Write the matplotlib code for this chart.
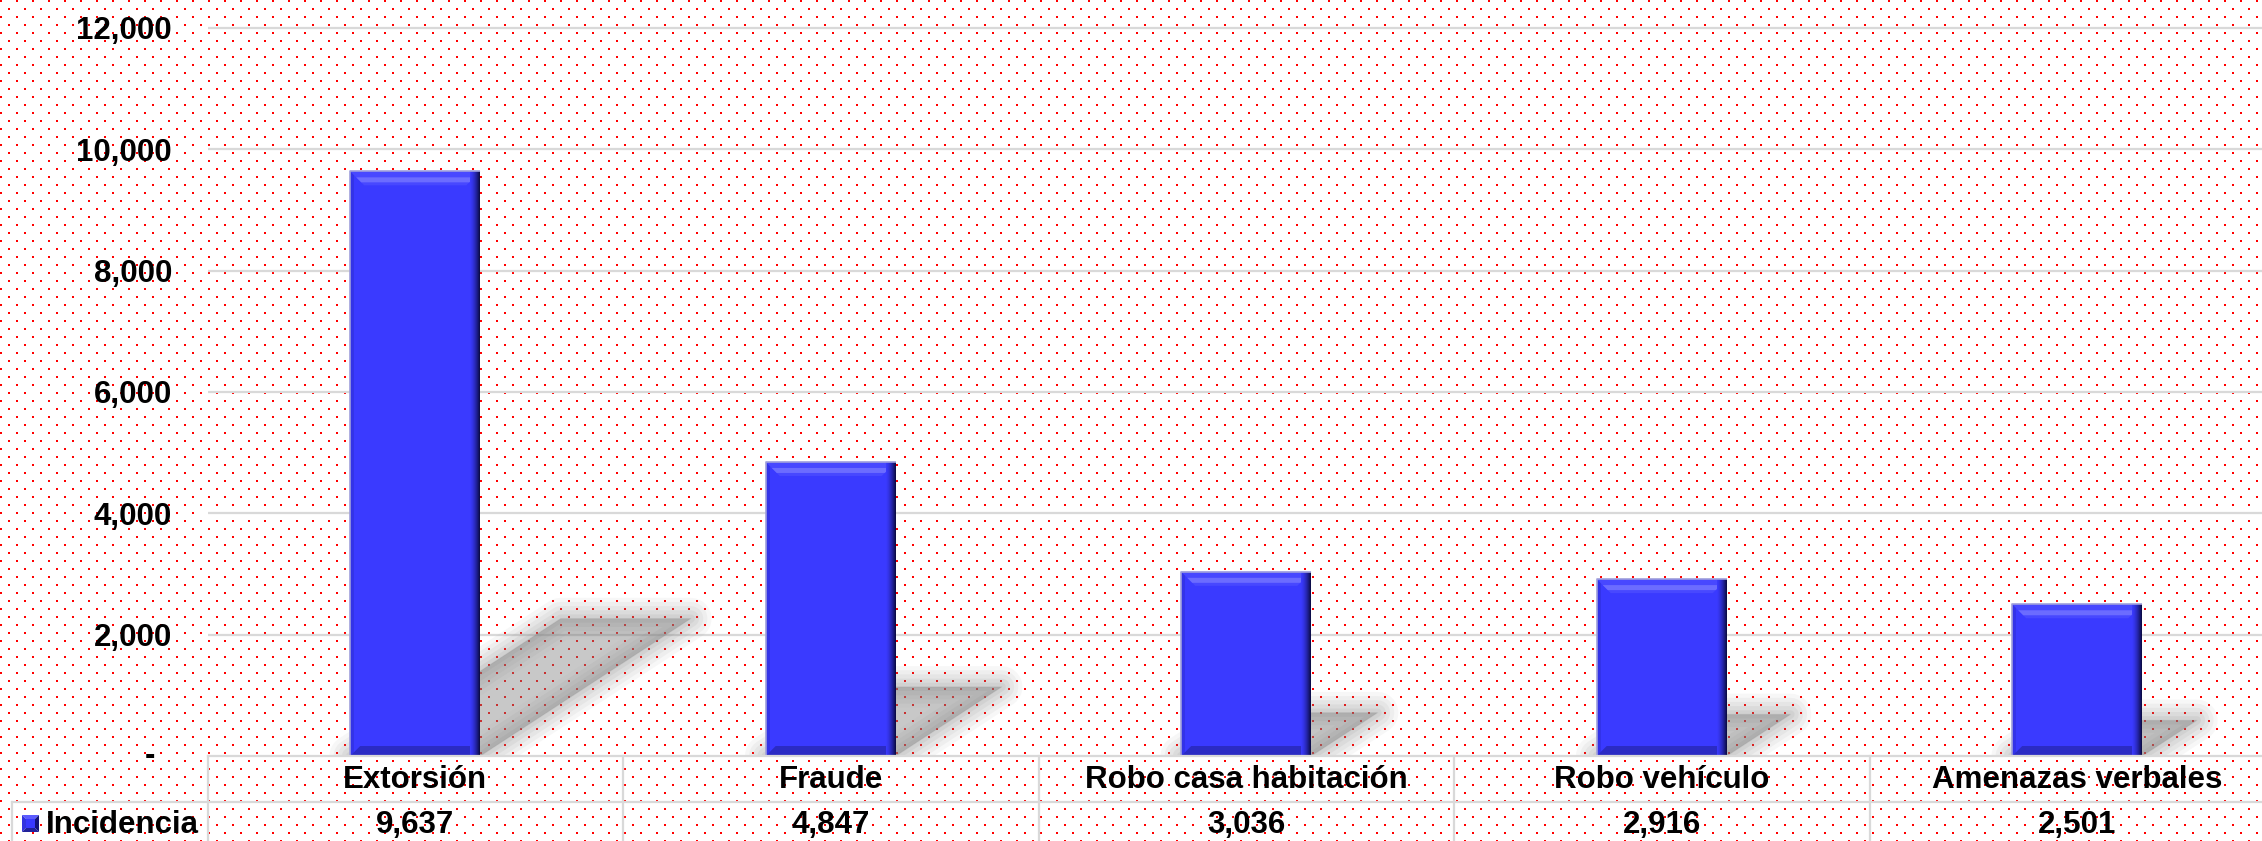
import numpy as np
import matplotlib
matplotlib.use("Agg")
import matplotlib.pyplot as plt
from matplotlib.patches import Rectangle, Polygon
from matplotlib.lines import Line2D
import matplotlib.transforms as mtransforms
from matplotlib.colors import to_rgb

# ---------------- data ----------------
categories = ["Extorsión", "Fraude", "Robo casa habitación", "Robo vehículo", "Amenazas verbales"]
values = [9637, 4847, 3036, 2916, 2501]
series_name = "Incidencia"
yticks = [0, 2000, 4000, 6000, 8000, 10000, 12000]
ytick_labels = ["-", "2,000", "4,000", "6,000", "8,000", "10,000", "12,000"]

# ---------------- layout (pixels) ----------------
W, H = 2262, 841
left_px = 207.5
col_px = 415.5
base_px = 85.0          # from bottom
plot_h_px = 728.0
FONT = "Liberation Sans"
FS = 22.5
BAR = "#3a3aff"
NAVY = "#0c0c4a"
GRID = "#d9d9d9"

plt.rcParams["font.family"] = [FONT, "DejaVu Sans"]

fig = plt.figure(figsize=(W / 100, H / 100), dpi=100)
fig.patch.set_facecolor("white")

# dotted background texture
yy, xx = np.mgrid[0:H, 0:W]
mask = (yy % 8 < 2) & (((xx + 8 * ((yy // 8) % 2)) % 16) < 2)
bg = np.ones((H, W, 3))
bg[mask] = [1.0, 0.0, 0.0]
fig.figimage(bg, 0, 0, zorder=-10)

n = len(categories)
ax = fig.add_axes([left_px / W, base_px / H, n * col_px / W, plot_h_px / H])
ax.set_zorder(2)
ax.set_facecolor("none")
ax.patch.set_alpha(0)
ax.set_xlim(-0.5, n - 0.5)
ax.set_ylim(yticks[0], yticks[-1])
for s in ax.spines.values():
    s.set_visible(False)
ax.set_xticks([])
ax.set_yticks(yticks[1:])
ax.set_yticklabels(ytick_labels[1:], fontsize=FS, fontweight="bold", family=FONT)
ax.tick_params(axis="y", length=0, pad=25.6)
ax.hlines(yticks[1:], -0.5, n - 0.5, colors=GRID, lw=1.6, zorder=1, clip_on=False)

dxp = 1.0 / col_px                       # data x per pixel
dyp = (yticks[-1] - yticks[0]) / plot_h_px   # data y per pixel

x = np.arange(n)
bw = 0.313
w = bw / 2


def lerp(c1, c2, t):
    a, b = np.array(to_rgb(c1)), np.array(to_rgb(c2))
    return tuple(a + (b - a) * t)


# soft shadows
for c, v in zip(x, values):
    hpx = v / dyp
    hs = 0.235 * v
    dx = 0.36 * hpx * dxp
    poly = [(c - w, 0), (c + w, 0), (c + w + dx, hs), (c - w + dx, hs)]
    for lw, a in [(30, 0.06), (24, 0.07), (18, 0.08), (12, 0.09), (6, 0.1), (1, 0.1)]:
        ax.add_patch(Polygon(poly, closed=True, fc="#808080", ec="#808080", lw=lw,
                             alpha=a, joinstyle="round", zorder=2))

# bars
ax.bar(x, values, width=bw, color=BAR, zorder=3, linewidth=0)

# bevel decoration
for c, v in zip(x, values):
    L, R = c - w, c + w
    ax.add_patch(Rectangle((L, 0), 4 * dxp, v, fc="#3333e8", ec="none", zorder=4))
    # bottom band
    ax.add_patch(Polygon([(L, 0), (R, 0), (R - 10 * dxp, 10 * dyp), (L + 10 * dxp, 10 * dyp)],
                         closed=True, fc="#2b2bc4", ec="none", zorder=4))
    # top band
    ax.add_patch(Polygon([(L, v), (R, v), (R - 14 * dxp, v - 14 * dyp), (L + 14 * dxp, v - 14 * dyp)],
                         closed=True, fc="#4848ff", ec="none", zorder=4))
    ax.add_patch(Polygon([(L + 6 * dxp, v - 6 * dyp), (R - 6 * dxp, v - 6 * dyp),
                          (R - 11 * dxp, v - 11 * dyp), (L + 11 * dxp, v - 11 * dyp)],
                         closed=True, fc="#6c6cff", ec="none", zorder=4))
    # right dark gradient
    for i in range(10):
        t = ((i + 1) / 10) ** 1.6
        ax.add_patch(Rectangle((R - (10 - i) * dxp, 0), dxp, v, fc=lerp(BAR, NAVY, t),
                               ec="none", zorder=5))
    ax.plot([L, L, R], [0, v, v], color="#a0a0dc", lw=1.2, zorder=6, solid_capstyle="butt")

# zero label "-"
tz = mtransforms.blended_transform_factory(fig.transFigure, ax.transData)
ax.text(155 / W, yticks[0], ytick_labels[0], transform=tz, ha="right", va="center",
        fontsize=FS, fontweight="bold", family=FONT, clip_on=False)

# ---------------- data table ----------------
tb = mtransforms.blended_transform_factory(ax.transData, fig.transFigure)
y_top = base_px / H
y_mid = (H - 802) / H
lkw = dict(color=GRID, lw=1.6, zorder=7)
fig.add_artist(Line2D([left_px / W, 1.02], [y_top, y_top], transform=fig.transFigure, **lkw))
fig.add_artist(Line2D([12 / W, 1.02], [y_mid, y_mid], transform=fig.transFigure, **lkw))
fig.add_artist(Line2D([12 / W, 12 / W], [y_mid, -0.02], transform=fig.transFigure, **lkw))
for b in np.arange(-0.5, n, 1.0):
    fig.add_artist(Line2D([b, b], [y_top, -0.02], transform=tb, **lkw))

for c, cat, v in zip(x, categories, values):
    fig.text(c, (H - 788) / H, cat, transform=tb, ha="center", va="baseline",
             fontsize=FS, fontweight="bold", family=FONT)
    fig.text(c, (H - 833) / H, f"{v:,}", transform=tb, ha="center", va="baseline",
             fontsize=FS, fontweight="bold", family=FONT)

# legend key (beveled square)
sx0, sx1 = 22 / W, 39 / W
sy0, sy1 = (H - 832) / H, (H - 815) / H
cx, cy = (sx0 + sx1) / 2, (sy0 + sy1) / 2
tris = [
    ([(sx0, sy1), (sx1, sy1), (cx, cy)], "#5c5cff"),
    ([(sx0, sy0), (sx0, sy1), (cx, cy)], "#3434e0"),
    ([(sx1, sy0), (sx1, sy1), (cx, cy)], "#14147a"),
    ([(sx0, sy0), (sx1, sy0), (cx, cy)], "#22229a"),
]
for pts, col in tris:
    fig.add_artist(Polygon(pts, closed=True, fc=col, ec="none", transform=fig.transFigure, zorder=8))
fig.add_artist(Rectangle((sx0 + 4 / W, sy0 + 4 / H), 9 / W, 9 / H, fc=BAR, ec="none",
                         transform=fig.transFigure, zorder=9))
fig.text(46 / W, (H - 833) / H, series_name, ha="left", va="baseline",
         fontsize=FS, fontweight="bold", family=FONT)

fig.savefig("out.png", dpi=100)
